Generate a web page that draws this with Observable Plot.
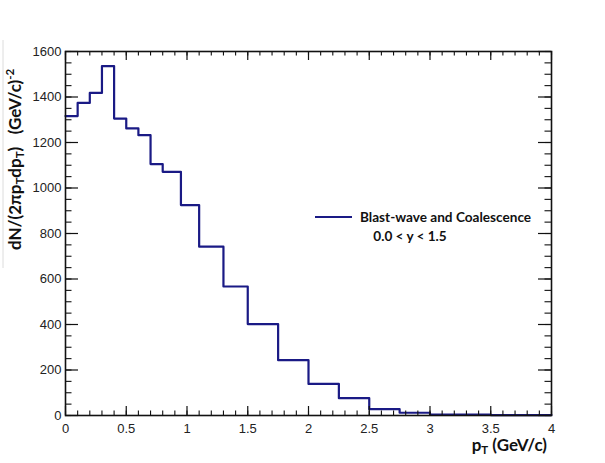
<!DOCTYPE html>
<html>
<head>
<meta charset="utf-8">
<script src="https://cdn.jsdelivr.net/npm/d3@7"></script>
<script src="https://cdn.jsdelivr.net/npm/@observablehq/plot@0.6"></script>
<style>
  html, body { margin: 0; padding: 0; background: #fff; }
  #chart svg { display: block; }
</style>
</head>
<body>
<div id="chart"></div>
<script>
// Bin edges in pT (GeV/c) and histogram contents dN/(2π pT dpT)
const binEdges = [0, 0.1, 0.2, 0.3, 0.4, 0.5, 0.6, 0.7, 0.8, 0.95, 1.1, 1.3, 1.5, 1.75, 2.0, 2.25, 2.5, 2.75, 3.0, 3.5, 4.0];
const binValues = [1316, 1374, 1418, 1536, 1305, 1262, 1232, 1105, 1071, 925, 742, 567, 402, 243, 139, 76, 28, 12, 4, 2];

// Axis ticks
const xMajorTicks = [0, 0.5, 1, 1.5, 2, 2.5, 3, 3.5, 4];
const xMinorTicks = d3.range(0, 40.5, 1).map(d => d / 10);
const yMajorTicks = [0, 200, 400, 600, 800, 1000, 1200, 1400, 1600];
const yMinorTicks = d3.range(0, 1601, 50);

const seriesLabel = "Blast-wave and Coalescence";
const rapidityLabel = "0.0 < y < 1.5";

const W = 605, H = 463;
const mL = 65, mR = 54, mT = 51, mB = 48;
const plotH = H - mT - mB;
const plotW = W - mL - mR;
const lineColor = "#1a1a85";

const stepData = binValues.map((v, i) => ({x: binEdges[i], y: v}));
stepData.push({x: binEdges[binEdges.length - 1], y: binValues[binValues.length - 1]});

const xMajLen = 9, xMinLen = 4.5, yMajLen = 13, yMinLen = 6.5;

const chart = Plot.plot({
  width: W,
  height: H,
  marginLeft: mL,
  marginRight: mR,
  marginTop: mT,
  marginBottom: mB,
  style: {fontFamily: "'Liberation Sans', Arial, sans-serif", fontSize: "13px", color: "#222", background: "#fff"},
  x: {domain: [0, 4]},
  y: {domain: [0, 1600]},
  marks: [
    Plot.line(stepData, {x: "x", y: "y", curve: "step-after", stroke: lineColor, strokeWidth: 2.2}),
    // inward ticks: bottom
    Plot.tickX(xMajorTicks, {x: d => d, insetTop: plotH - xMajLen, stroke: "#111", strokeWidth: 1.2}),
    Plot.tickX(xMinorTicks, {x: d => d, insetTop: plotH - xMinLen, stroke: "#111", strokeWidth: 1.1}),
    // top
    Plot.tickX(xMajorTicks, {x: d => d, insetBottom: plotH - xMajLen, stroke: "#111", strokeWidth: 1.2}),
    Plot.tickX(xMinorTicks, {x: d => d, insetBottom: plotH - xMinLen, stroke: "#111", strokeWidth: 1.1}),
    // left
    Plot.tickY(yMajorTicks, {y: d => d, insetRight: plotW - yMajLen, stroke: "#111", strokeWidth: 1.2}),
    Plot.tickY(yMinorTicks, {y: d => d, insetRight: plotW - yMinLen, stroke: "#111", strokeWidth: 1.1}),
    // right
    Plot.tickY(yMajorTicks, {y: d => d, insetLeft: plotW - yMajLen, stroke: "#111", strokeWidth: 1.2}),
    Plot.tickY(yMinorTicks, {y: d => d, insetLeft: plotW - yMinLen, stroke: "#111", strokeWidth: 1.1}),
    Plot.frame({stroke: "#111", strokeWidth: 1.6}),
    Plot.axisX({ticks: xMajorTicks, tickSize: 0, tickPadding: 8, tickFormat: d => String(d), label: null, fontSize: 13}),
    Plot.axisY({ticks: yMajorTicks, tickSize: 0, tickPadding: 4, tickFormat: d => String(d), label: null, fontSize: 13})
  ]
});

document.getElementById("chart").appendChild(chart);

const svg = d3.select(chart);
const titleFont = "Lato, 'Open Sans', sans-serif";

// faint border artefact at left
svg.append("line").attr("x1", 3).attr("x2", 3).attr("y1", 40).attr("y2", 268)
  .attr("stroke", "#dcdcdc").attr("stroke-width", 1);

// y-axis title
const yt = svg.append("text")
  .attr("transform", "translate(21,250) rotate(-90)")
  .attr("text-anchor", "start")
  .attr("font-family", titleFont).attr("font-weight", 700).attr("font-size", 17)
  .attr("fill", "#111");
yt.append("tspan").text("dN/(2πp");
yt.append("tspan").attr("font-size", 11.5).attr("dy", 3).text("T");
yt.append("tspan").attr("dy", -3).text("dp");
yt.append("tspan").attr("font-size", 11.5).attr("dy", 3).text("T");
yt.append("tspan").attr("dy", -3).attr("xml:space", "preserve").text(")   (GeV/c)");
yt.append("tspan").attr("font-size", 11.5).attr("dy", -7).text("-2");

// x-axis title
const xt = svg.append("text")
  .attr("x", 547).attr("y", 451).attr("text-anchor", "end")
  .attr("font-family", titleFont).attr("font-weight", 700).attr("font-size", 17)
  .attr("fill", "#111");
xt.append("tspan").text("p");
xt.append("tspan").attr("font-size", 11.5).attr("dy", 3).text("T");
xt.append("tspan").attr("dy", -3).attr("xml:space", "preserve").text(" (GeV/c)");

// legend
svg.append("line").attr("x1", 315).attr("x2", 352).attr("y1", 217).attr("y2", 217)
  .attr("stroke", lineColor).attr("stroke-width", 2.2);
svg.append("text").attr("x", 360).attr("y", 222).attr("text-anchor", "start")
  .attr("font-family", titleFont).attr("font-weight", 700).attr("font-size", 13.6)
  .attr("fill", "#111").text(seriesLabel);
svg.append("text").attr("x", 410).attr("y", 241).attr("text-anchor", "middle")
  .attr("font-family", titleFont).attr("font-weight", 700).attr("font-size", 13.6)
  .attr("fill", "#111").text(rapidityLabel);
</script>
</body>
</html>
